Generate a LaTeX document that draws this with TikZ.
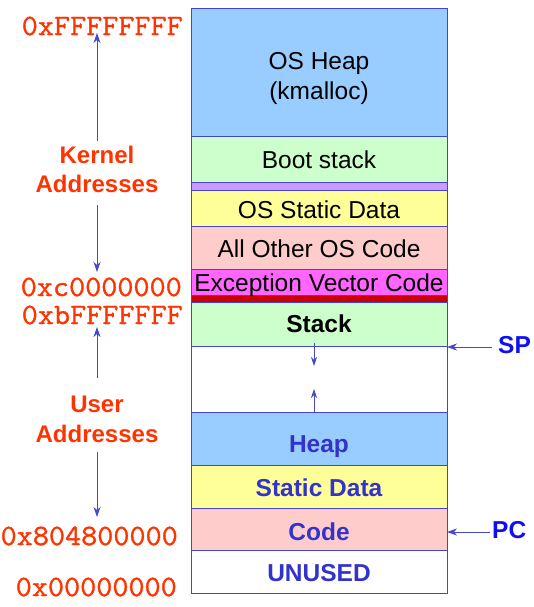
\documentclass[tikz,border=0pt]{standalone}
\usepackage{fontspec}
\setmainfont{Liberation Sans}
\newfontfamily\addrfont{Latin Modern Mono}[FakeBold=1.2,FakeStretch=1.06]
\usetikzlibrary{arrows.meta}
\definecolor{addr}{HTML}{FF3300}
\definecolor{edge}{HTML}{4444CC}
\definecolor{arrc}{HTML}{4848CC}
\definecolor{lblue}{HTML}{99CCFF}
\definecolor{lgreen}{HTML}{CCFFCC}
\definecolor{lpurple}{HTML}{CC99FF}
\definecolor{lyellow}{HTML}{FFFF99}
\definecolor{lpink}{HTML}{FFCCCC}
\definecolor{magen}{HTML}{FF66FF}
\definecolor{dred}{HTML}{CC0000}
\definecolor{ublue}{HTML}{3333CC}
\definecolor{regb}{HTML}{1010EE}
\tikzset{
  seg/.style={draw=edge, line width=0.9pt, minimum width=256pt, inner sep=0pt, outer sep=0pt, anchor=north},
  ktext/.style={text=black, inner sep=0pt, align=center, font=\fontsize{24.5}{30}\selectfont},
  kbold/.style={text=black, inner sep=0pt, font=\fontsize{24.5}{30}\selectfont\bfseries},
  utext/.style={text=ublue, inner sep=0pt, font=\fontsize{24.5}{30}\selectfont\bfseries},
  addrlbl/.style={text=addr, inner sep=0pt, anchor=east, font=\fontsize{29.5}{32}\selectfont\addrfont},
  rangelbl/.style={text=addr, inner sep=0pt, align=center, font=\fontsize{24}{29.5}\selectfont\bfseries},
  reglbl/.style={text=regb, inner sep=0pt, font=\fontsize{24.5}{30}\selectfont\bfseries},
  arr/.style={draw=arrc, line width=0.9pt, -{Stealth[length=10pt,width=7pt,inset=3pt]}},
  sarr/.style={draw=arrc, line width=0.9pt, -{Stealth[length=9pt,width=6pt,inset=3pt]}}
}
\begin{document}
\begin{tikzpicture}[x=1pt,y=-1pt]
\useasboundingbox (0,0) rectangle (533,607);
% memory segments
\node[seg, fill=lblue, minimum height=128pt] (osheap) at (319,8) {};
\node[seg, fill=lgreen, minimum height=46pt] (boot) at (319,136) {};
\node[seg, fill=lpurple, minimum height=8pt] (purp) at (319,182) {};
\node[seg, fill=lyellow, minimum height=36pt] (osdata) at (319,190) {};
\node[seg, fill=lpink, minimum height=43pt] (oscode) at (319,226) {};
\node[seg, fill=magen, minimum height=26pt] (exc) at (319,269) {};
\node[seg, fill=dred, minimum height=7pt] (redbar) at (319,295) {};
\node[seg, fill=lgreen, minimum height=44pt] (stack) at (319,302) {};
\node[seg, fill=white, minimum height=66pt] (gap) at (319,346) {};
\node[seg, fill=lblue, minimum height=53pt] (heap) at (319,412) {};
\node[seg, fill=lyellow, minimum height=43pt] (sdata) at (319,465) {};
\node[seg, fill=lpink, minimum height=42pt] (code) at (319,508) {};
\node[seg, fill=white, minimum height=43pt] (unused) at (319,550) {};
% segment texts
\node[ktext] (tosheap) at ([yshift=-6pt]osheap.center) {OS Heap\\(kmalloc)};
\node[ktext] (tboot) at ([yshift=-1pt]boot.center) {Boot stack};
\node[ktext] (tosdata) at ([yshift=-2pt]osdata.center) {OS Static Data};
\node[ktext] (toscode) at ([yshift=-1pt]oscode.center) {All Other OS Code};
\node[ktext] (texc) at ([yshift=-3pt]exc.center) {Exception Vector Code};
\node[kbold] (tstack) at (stack.center) {Stack};
\node[utext] (theap) at ([yshift=-8.5pt]heap.center) {Heap};
\node[utext] (tsdata) at ([yshift=-1pt]sdata.center) {Static Data};
\node[utext] (tcode) at ([yshift=-3pt]code.center) {Code};
\node[utext] (tunused) at ([yshift=-2pt]unused.center) {UNUSED};
% growth arrows in gap
\coordinate (sgs) at (314,343);
\coordinate (sge) at (314,366);
\coordinate (hge) at (314,389);
\draw[sarr] (sgs) -- (sge);
\draw[sarr] (hge |- heap.north) -- (hge);
% address labels
\node[addrlbl] (aff) at (183,26) {0xFFFFFFFF};
\node[addrlbl] (ac0) at (182,287) {0xc0000000};
\node[addrlbl] (abf) at (183,315) {0xbFFFFFFF};
\node[addrlbl] (a08) at (178,536) {0x804800000};
\node[addrlbl] (a00) at (177,587) {0x00000000};
% range labels
\node[rangelbl] (kern) at (97,169.5) {Kernel\\Addresses};
\node[rangelbl] (user) at (97,419.5) {User\\Addresses};
\coordinate (k1) at (97,141);
\coordinate (k1t) at (97,33);
\coordinate (k2) at (97,205);
\coordinate (k2t) at (97,272);
\coordinate (u1) at (97,378);
\coordinate (u1t) at (97,327);
\coordinate (u2) at (97,452);
\coordinate (u2t) at (97,517);
\draw[arr] (k1) -- (k1t);
\draw[arr] (k2) -- (k2t);
\draw[arr] (u1) -- (u1t);
\draw[arr] (u2) -- (u2t);
% registers
\node[reglbl, anchor=west] (sp) at (498,345) {SP};
\node[reglbl, anchor=west] (pc) at (492,530) {PC};
\coordinate (spf) at (492,347);
\coordinate (pcf) at (490,532);
\draw[arr] (spf) -- (spf -| stack.east);
\draw[arr] (pcf) -- (pcf -| code.east);
\end{tikzpicture}
\end{document}
